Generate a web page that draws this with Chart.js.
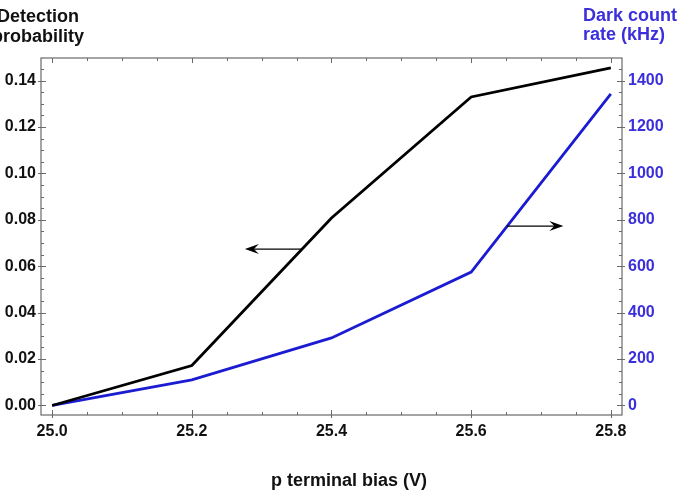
<!DOCTYPE html>
<html>
<head>
<meta charset="utf-8">
<script src="https://cdn.jsdelivr.net/npm/chart.js@4/dist/chart.umd.min.js"></script>
<style>
html,body{margin:0;padding:0;background:#fff;}
#wrap{width:677px;height:491px;position:relative;}
</style>
</head>
<body>
<div id="wrap"><canvas id="c" width="677" height="491"></canvas></div>
<script>
// ---- data ----
const biasV = [25.0, 25.2, 25.4, 25.6, 25.8];
const detectionProb = [0.000, 0.0172, 0.0808, 0.1329, 0.1454];
const darkCountKHz = [0, 110, 291, 575, 1342];
const xTickValues = [25.0, 25.2, 25.4, 25.6, 25.8];
const leftTickValues = [0, 0.02, 0.04, 0.06, 0.08, 0.10, 0.12, 0.14];
const rightTickValues = [0, 200, 400, 600, 800, 1000, 1200, 1400];
// arrows in data coordinates: [xFrom, xTo, y]
const leftArrow = [25.358, 25.276, 0.0674];   // points to left axis (detection)
const rightArrow = [25.651, 25.732, 773];      // points to right axis (dark count)

const BLUE_LINE = '#1b1bd2';
const BLUE_TEXT = '#3b2fdc';
const FONT = '"Liberation Sans", Arial, Helvetica, sans-serif';

const toXY = (xs, ys) => xs.map((x, i) => ({x: x, y: ys[i]}));

function fixTicks(values) {
  return function(scale) { scale.ticks = values.map(v => ({value: v})); };
}

function drawArrow(ctx, x0, y0, x1, y1) {
  ctx.save();
  ctx.strokeStyle = '#000';
  ctx.fillStyle = '#000';
  ctx.lineWidth = 1.2;
  const dir = Math.sign(x1 - x0);
  const headLen = 14, headW = 5, notch = 5;
  ctx.beginPath();
  ctx.moveTo(x0, y0);
  ctx.lineTo(x1 - dir * notch, y1);
  ctx.stroke();
  ctx.beginPath();
  ctx.moveTo(x1, y1);
  ctx.lineTo(x1 - dir * headLen, y1 - headW);
  ctx.lineTo(x1 - dir * (headLen - notch), y1);
  ctx.lineTo(x1 - dir * headLen, y1 + headW);
  ctx.closePath();
  ctx.fill();
  ctx.restore();
}

const framePlugin = {
  id: 'frame',
  afterDatasetsDraw(chart) {
    const ctx = chart.ctx;
    const a = chart.chartArea;
    const xs = chart.scales.x, yl = chart.scales.y, yr = chart.scales.y2;
    ctx.save();
    // arrows
    drawArrow(ctx, xs.getPixelForValue(leftArrow[0]), yl.getPixelForValue(leftArrow[2]),
                   xs.getPixelForValue(leftArrow[1]), yl.getPixelForValue(leftArrow[2]));
    drawArrow(ctx, xs.getPixelForValue(rightArrow[0]), yr.getPixelForValue(rightArrow[2]),
                   xs.getPixelForValue(rightArrow[1]), yr.getPixelForValue(rightArrow[2]));
    // frame
    ctx.strokeStyle = '#6a6a6a';
    ctx.lineWidth = 1.2;
    ctx.strokeRect(a.left, a.top, a.right - a.left, a.bottom - a.top);
    ctx.lineWidth = 1;
    ctx.beginPath();
    // x ticks (top & bottom)
    for (let i = 0; i <= 16; i++) {
      const v = 25.0 + i * 0.05;
      const px = Math.round(xs.getPixelForValue(v)) + 0.5;
      const major = i % 4 === 0;
      const len = major ? 5 : 3;
      ctx.moveTo(px, a.bottom); ctx.lineTo(px, a.bottom - len);
      if (major) { ctx.moveTo(px, a.bottom); ctx.lineTo(px, a.bottom + 3); }
      ctx.moveTo(px, a.top); ctx.lineTo(px, a.top + len);
    }
    // left ticks
    for (let i = 0; i <= 29; i++) {
      const v = i * 0.005;
      const py = Math.round(yl.getPixelForValue(v)) + 0.5;
      if (py < a.top || py > a.bottom) continue;
      const major = i % 4 === 0;
      const len = major ? 5 : 3;
      ctx.moveTo(a.left, py); ctx.lineTo(a.left + len, py);
      if (major) { ctx.moveTo(a.left, py); ctx.lineTo(a.left - 3, py); }
    }
    // right ticks
    for (let i = 0; i <= 29; i++) {
      const v = i * 50;
      const py = Math.round(yr.getPixelForValue(v)) + 0.5;
      if (py < a.top || py > a.bottom) continue;
      const major = i % 4 === 0;
      const len = major ? 5 : 3;
      ctx.moveTo(a.right, py); ctx.lineTo(a.right - len, py);
      if (major) { ctx.moveTo(a.right, py); ctx.lineTo(a.right + 3, py); }
    }
    ctx.stroke();
    // axis titles
    ctx.font = 'bold 18px ' + FONT;
    ctx.textBaseline = 'alphabetic';
    ctx.fillStyle = '#111';
    ctx.textAlign = 'center';
    ctx.fillText('Detection', 38, 22);
    ctx.fillText('probability', 38, 42);
    ctx.fillText('p terminal bias (V)', 349, 486);
    ctx.fillStyle = BLUE_TEXT;
    ctx.textAlign = 'left';
    ctx.fillText('Dark count', 583, 21);
    ctx.fillText('rate (kHz)', 583, 40);
    ctx.restore();
  }
};

new Chart(document.getElementById('c'), {
  type: 'line',
  data: {
    datasets: [
      {
        label: 'Detection probability',
        data: toXY(biasV, detectionProb),
        yAxisID: 'y',
        borderColor: '#000',
        borderWidth: 2.8,
        pointRadius: 0,
        tension: 0,
        fill: false
      },
      {
        label: 'Dark count rate (kHz)',
        data: toXY(biasV, darkCountKHz),
        yAxisID: 'y2',
        borderColor: BLUE_LINE,
        borderWidth: 2.8,
        pointRadius: 0,
        tension: 0,
        fill: false
      }
    ]
  },
  options: {
    responsive: false,
    animation: false,
    layout: {padding: {top: 58, left: 0, right: 0, bottom: 0}},
    plugins: {legend: {display: false}, tooltip: {enabled: false}},
    scales: {
      x: {
        type: 'linear',
        min: 24.984,
        max: 25.816,
        afterBuildTicks: fixTicks(xTickValues),
        afterFit: s => { s.height = 76; },
        grid: {display: false, drawTicks: false},
        border: {display: false},
        ticks: {
          padding: 7,
          color: '#111',
          font: {family: FONT, size: 16, weight: 'bold'},
          callback: v => Number(v).toFixed(1),
          maxRotation: 0, autoSkip: false
        },
        title: {display: false}
      },
      y: {
        type: 'linear',
        position: 'left',
        min: -0.0041,
        max: 0.1497,
        afterBuildTicks: fixTicks(leftTickValues),
        afterFit: s => { s.width = 41; },
        grid: {display: false, drawTicks: false},
        border: {display: false},
        ticks: {
          padding: 5,
          color: '#111',
          font: {family: FONT, size: 16, weight: 'bold'},
          callback: v => Number(v).toFixed(2),
          autoSkip: false
        }
      },
      y2: {
        type: 'linear',
        position: 'right',
        min: -41,
        max: 1497,
        afterBuildTicks: fixTicks(rightTickValues),
        afterFit: s => { s.width = 55; },
        grid: {display: false, drawTicks: false},
        border: {display: false},
        ticks: {
          padding: 6,
          color: BLUE_TEXT,
          font: {family: FONT, size: 16, weight: 'bold'},
          callback: v => String(v),
          autoSkip: false
        }
      }
    }
  },
  plugins: [framePlugin]
});
</script>
</body>
</html>
